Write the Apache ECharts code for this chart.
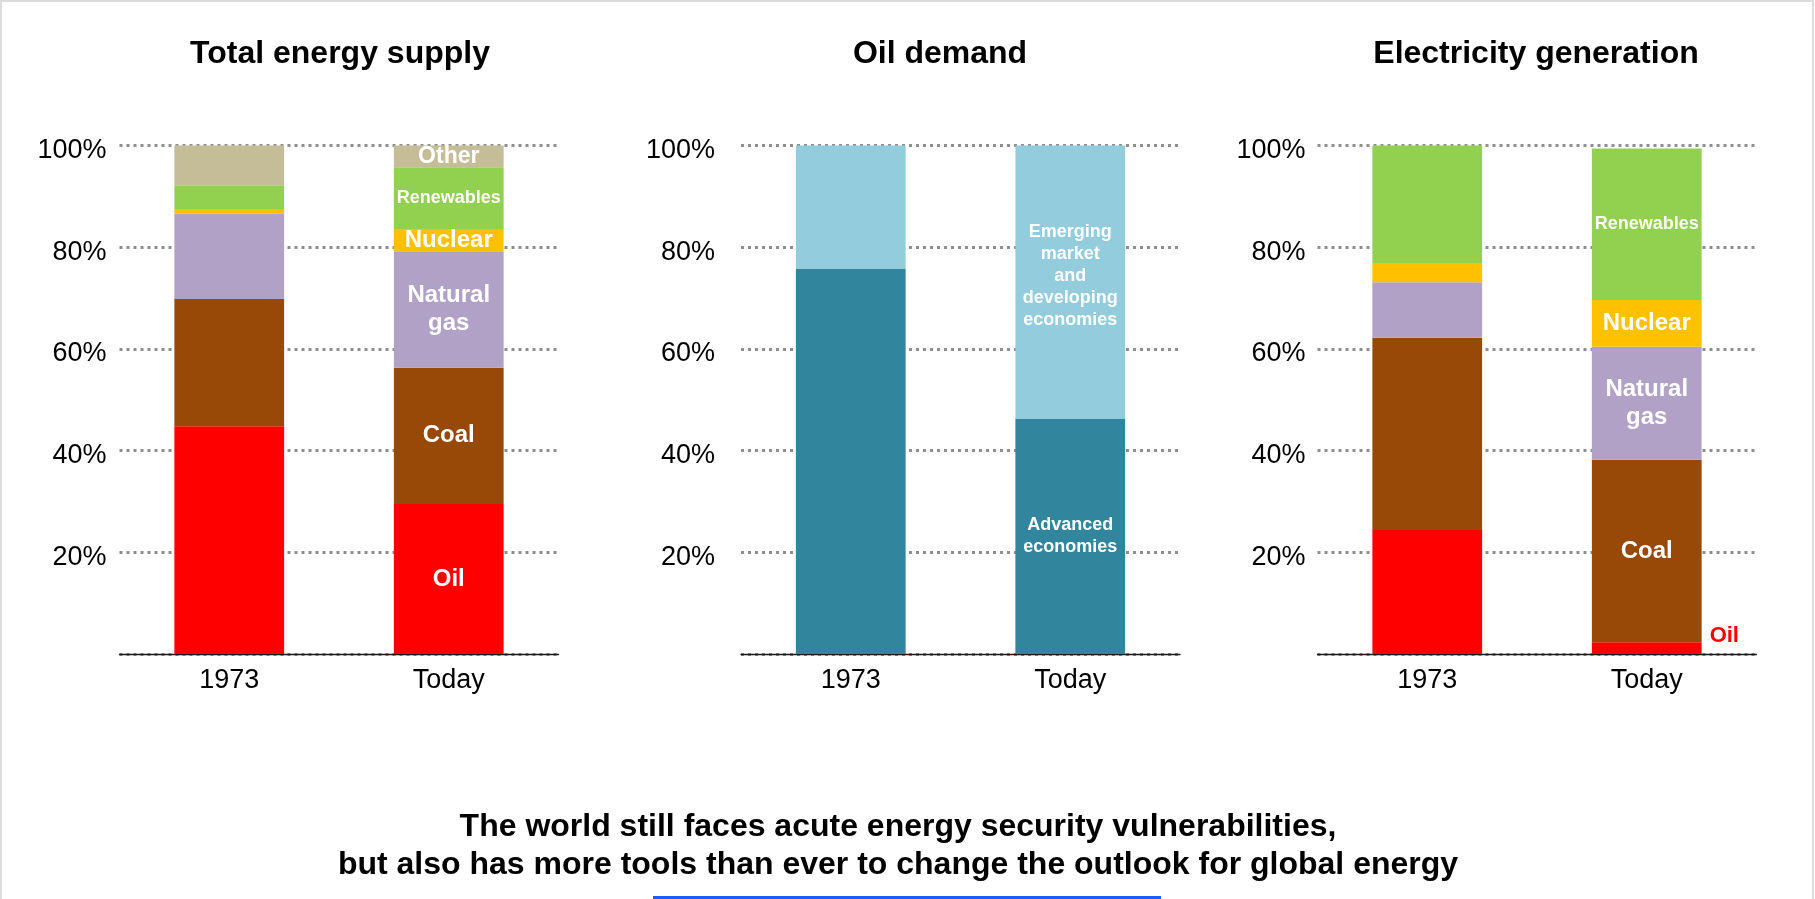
<!DOCTYPE html>
<html>
<head>
<meta charset="utf-8">
<title>Energy security</title>
<script src="https://cdn.jsdelivr.net/npm/echarts@6/dist/echarts.min.js"></script>
<style>
  html, body { margin: 0; padding: 0; background: #fff; }
  #chart { width: 1815px; height: 899px; }
</style>
</head>
<body>
<div id="chart"></div>
<script>
// categories
const years = ['1973', 'Today'];

// Total energy supply (% share)
const tesOil = [44.8, 29.5];
const tesCoal = [25.0, 26.8];
const tesGas = [16.8, 22.9];
const tesNuclear = [0.9, 4.4];
const tesRenew = [4.7, 12.1];
const tesOther = [7.8, 4.3];

// Oil demand (% share)
const oilAdvanced = [75.8, 46.3];
const oilEmerging = [24.2, 53.7];

// Electricity generation (% share)
const elecOil = [24.4, 2.3];
const elecCoal = [37.8, 35.9];
const elecGas = [10.9, 22.2];
const elecNuclear = [3.8, 9.2];
const elecRenew = [23.1, 29.8];

const font = 'Liberation Sans, Arial, Helvetica, sans-serif';

const C = {
  oil: '#ff0000',
  coal: '#984807',
  gas: '#b2a1c7',
  nuclear: '#ffc000',
  renew: '#92d050',
  other: '#c4bd97',
  advanced: '#31859c',
  emerging: '#93cddd'
};

// panel layout (left edge of plot, y label gap)
const panels = [
  { left: 119.5, gap: 13 },
  { left: 741, gap: 26 },
  { left: 1317.5, gap: 12 }
];
const plotW = 439;

let chart = echarts.init(document.getElementById('chart'));

// label only on the "Today" bar
function lbl(text, size, lh, extra) {
  return Object.assign({
    show: true,
    position: 'inside',
    color: '#ffffff',
    fontFamily: font,
    fontWeight: 'bold',
    fontSize: size,
    lineHeight: lh || size,
    formatter: p => (p.dataIndex === 1 ? text : '')
  }, extra || {});
}

function bar(name, data, color, idx, label) {
  return {
    name: name,
    type: 'bar',
    stack: 'p' + idx,
    xAxisIndex: idx,
    yAxisIndex: idx,
    barWidth: '50%',
    itemStyle: { color: color },
    label: label || { show: false },
    emphasis: { disabled: true },
    data: data
  };
}

let option = {
  animation: false,
  backgroundColor: '#ffffff',
  title: [
    { text: 'Total energy supply', left: 340, top: 38 },
    { text: 'Oil demand', left: 940, top: 38 },
    { text: 'Electricity generation', left: 1536, top: 38 }
  ].map(t => Object.assign(t, {
    textAlign: 'center',
    padding: 0,
    textStyle: { fontFamily: font, fontWeight: 'bold', fontSize: 32, lineHeight: 32, color: '#000' }
  })),
  grid: panels.map(p => ({
    left: p.left, width: plotW, top: 145.5, height: 508.5, containLabel: false
  })),
  xAxis: panels.map((p, i) => ({
    type: 'category',
    gridIndex: i,
    data: years,
    axisTick: { show: false },
    axisLine: { lineStyle: { color: '#1a1a1a', width: 1.3 } },
    axisLabel: { color: '#000', fontFamily: font, fontSize: 27, margin: 13 }
  })),
  yAxis: panels.map((p, i) => ({
    type: 'value',
    gridIndex: i,
    min: 0,
    max: 100,
    interval: 20,
    axisLine: { show: false },
    axisTick: { show: false },
    axisLabel: {
      color: '#000', fontFamily: font, fontSize: 27, margin: p.gap,
      verticalAlign: 'top',
      lineHeight: 10,
      formatter: v => (v === 0 ? '' : v + '%')
    },
    splitLine: { lineStyle: { color: '#8f8f8f', width: 3, type: [3, 4] } }
  })),
  series: [
    // Total energy supply
    bar('Oil', tesOil, C.oil, 0, lbl('Oil', 24)),
    bar('Coal', tesCoal, C.coal, 0, lbl('Coal', 24)),
    bar('Natural gas', tesGas, C.gas, 0, lbl('Natural\ngas', 24, 28)),
    bar('Nuclear', tesNuclear, C.nuclear, 0, lbl('Nuclear', 24)),
    bar('Renewables', tesRenew, C.renew, 0, lbl('Renewables', 18)),
    bar('Other', tesOther, C.other, 0, lbl('Other', 23)),
    // Oil demand
    bar('Advanced economies', oilAdvanced, C.advanced, 1, lbl('Advanced\neconomies', 18, 22)),
    bar('Emerging market and developing economies', oilEmerging, C.emerging, 1,
      lbl('Emerging\nmarket\nand\ndeveloping\neconomies', 18, 22, { offset: [0, -6] })),
    // Electricity generation
    bar('Oil', elecOil, C.oil, 2,
      lbl('Oil', 22, 22, { position: 'right', distance: 8, color: '#ff0000', offset: [0, -12] })),
    bar('Coal', elecCoal, C.coal, 2, lbl('Coal', 24)),
    bar('Natural gas', elecGas, C.gas, 2, lbl('Natural\ngas', 24, 28)),
    bar('Nuclear', elecNuclear, C.nuclear, 2, lbl('Nuclear', 24)),
    bar('Renewables', elecRenew, C.renew, 2, lbl('Renewables', 18))
  ],
  graphic: [
    {
      type: 'rect',
      shape: { x: 1, y: 1, width: 1812, height: 905 },
      style: { fill: 'none', stroke: '#dcdcdc', lineWidth: 2 },
      silent: true
    },
    {
      type: 'text',
      x: 898,
      y: 846,
      style: {
        text: 'The world still faces acute energy security vulnerabilities,\nbut also has more tools than ever to change the outlook for global energy',
        fontFamily: font,
        fontWeight: 'bold',
        fontSize: 32,
        lineHeight: 38,
        fill: '#000',
        align: 'center',
        verticalAlign: 'middle'
      }
    },
    {
      type: 'rect',
      shape: { x: 653, y: 896, width: 508, height: 3 },
      style: { fill: '#1a5cff' },
      silent: true
    }
  ]
};

chart.setOption(option);
</script>
</body>
</html>
